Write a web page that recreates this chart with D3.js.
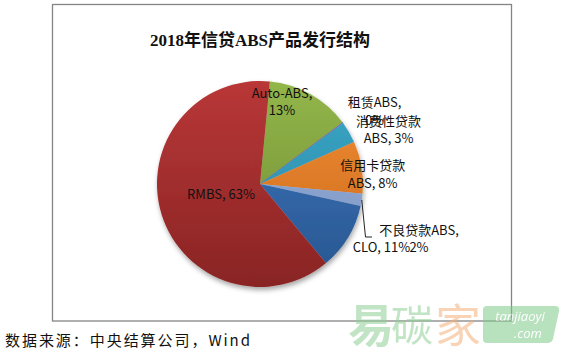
<!DOCTYPE html>
<html>
<head>
<meta charset="utf-8">
<script src="https://cdn.jsdelivr.net/npm/d3@7"></script>
<style>
body { margin: 0; background: #fff; }
svg { display: block; }
</style>
</head>
<body>
<svg id="chart" width="563" height="354"></svg>
<script>
// data, clockwise from the top of the pie
var categories = ['Auto-ABS', '租赁ABS', '消费性贷款ABS', '信用卡贷款ABS', '不良贷款ABS', 'CLO', 'RMBS'];
var shares = [13.3, 0.1, 3.4, 8.2, 1.9, 10.5, 62.6];
// label lines, {p} gets the percentage
var labelLines = [
    ['Auto-ABS,', '{p}'],
    ['租赁ABS,', '{p}'],
    ['消费性贷款', 'ABS, {p}'],
    ['信用卡贷款', 'ABS, {p}'],
    ['不良贷款ABS,', '{p}'],
    ['CLO, {p}'],
    ['RMBS, {p}']
];
var lightColors = ['#93b64a', '#8466a8', '#3ba8c8', '#f28f35', '#96afd8', '#3f78bf', '#b93737'];
var darkColors  = ['#6c8932', '#6b5290', '#2a84a1', '#c9661b', '#7c96c3', '#27558f', '#892424'];

var title = '2018年信贷ABS产品发行结构';
var source = '数据来源：中央结算公司，Wind';

// layout
var cx = 260, cy = 184, radius = 103;
var startDeg = 5.5;
var labelOffsets = [[22, -86.3], [114.5, -77], [128.5, -58.5], [112.7, -14], [159, 50.5], [121.5, 68], [-39, 14.5]];
var lineStep = 17.5;

var svg = d3.select('#chart');
var defs = svg.append('defs');

var shadow = defs.append('filter')
    .attr('id', 'shadow')
    .attr('x', '-20%').attr('y', '-20%')
    .attr('width', '140%').attr('height', '140%');
shadow.append('feDropShadow')
    .attr('dx', 1).attr('dy', 3)
    .attr('stdDeviation', 2.5)
    .attr('flood-color', '#000')
    .attr('flood-opacity', 0.35);

// gradients live in the pie group's coordinates (centre at 0,0)
categories.forEach(function(c, i) {
    var g = defs.append('linearGradient')
        .attr('id', 'grad' + i)
        .attr('gradientUnits', 'userSpaceOnUse')
        .attr('x1', 0).attr('y1', -radius)
        .attr('x2', 0).attr('y2', radius);
    g.append('stop').attr('offset', '0%').attr('stop-color', lightColors[i]);
    g.append('stop').attr('offset', '100%').attr('stop-color', darkColors[i]);
});

// chart frame
svg.append('rect')
    .attr('x', 52.5).attr('y', 4.5)
    .attr('width', 459).attr('height', 316.5)
    .attr('fill', '#fff')
    .attr('stroke', '#858585')
    .attr('stroke-width', 1.3);

svg.append('text')
    .attr('x', cx).attr('y', 46)
    .attr('text-anchor', 'middle')
    .style('font-family', '"Liberation Serif", "Noto Sans CJK SC", serif')
    .style('font-weight', 'bold')
    .style('font-size', '17px')
    .attr('fill', '#111')
    .text(title);

var start = startDeg * Math.PI / 180;
var pie = d3.pie().sort(null).value(function(d) { return d; })
    .startAngle(start).endAngle(start + 2 * Math.PI);
var arc = d3.arc().innerRadius(0).outerRadius(radius);
var arcs = pie(shares);
var total = d3.sum(shares);

var pieG = svg.append('g')
    .attr('transform', 'translate(' + cx + ',' + cy + ')');

pieG.append('g')
    .attr('filter', 'url(#shadow)')
    .selectAll('path')
    .data(arcs)
    .enter().append('path')
    .attr('d', arc)
    .attr('fill', function(d, i) { return 'url(#grad' + i + ')'; })
    .attr('stroke', function(d, i) { return i == 1 ? lightColors[i] : 'none'; })
    .attr('stroke-width', 0.6);

// leader line for the small slice
var nplIndex = 4;
var mid = (arcs[nplIndex].startAngle + arcs[nplIndex].endAngle) / 2;
var p0 = [radius * Math.sin(mid), -radius * Math.cos(mid)];
pieG.append('path')
    .attr('d', d3.line()([p0, [105.5, 53], [112, 53]]))
    .attr('fill', 'none')
    .attr('stroke', '#222')
    .attr('stroke-width', 1);

var pctFmt = function(v) { return Math.round(v / total * 100) + '%'; };

var labels = pieG.selectAll('text.lbl')
    .data(arcs)
    .enter().append('text')
    .attr('class', 'lbl')
    .attr('text-anchor', 'middle')
    .style('font-family', '"Noto Sans CJK SC", sans-serif')
    .style('font-size', '13px')
    .attr('fill', '#111');

labels.each(function(d, i) {
    var t = d3.select(this);
    labelLines[i].forEach(function(line, k) {
        t.append('tspan')
            .attr('x', labelOffsets[i][0])
            .attr('y', labelOffsets[i][1] + k * lineStep)
            .text(line.replace('{p}', pctFmt(d.value)));
    });
});

// source note
svg.append('text')
    .attr('x', 5).attr('y', 346)
    .attr('textLength', 245)
    .attr('lengthAdjust', 'spacing')
    .style('font-family', '"Noto Sans CJK SC", sans-serif')
    .style('font-size', '15px')
    .attr('fill', '#111')
    .text(source);

// watermark
var wm = svg.append('g').attr('opacity', 0.55);
wm.append('text')
    .attr('x', 348).attr('y', 342)
    .style('font-family', '"Noto Sans CJK SC", sans-serif')
    .style('font-weight', 'bold')
    .style('font-size', '46px')
    .attr('fill', '#8fd095')
    .text('易');
wm.append('text')
    .attr('x', 391).attr('y', 341)
    .style('font-family', '"Noto Sans CJK SC", sans-serif')
    .style('font-size', '42px')
    .attr('fill', '#8fd095')
    .text('碳');
wm.append('text')
    .attr('x', 435).attr('y', 342)
    .style('font-family', '"Noto Sans CJK SC", sans-serif')
    .style('font-size', '46px')
    .attr('fill', '#f3b07c')
    .text('家');
wm.append('path')
    .attr('d', 'M487,306 L555,306 Q560,306 559,311 L553,339 Q552,343 547,343 L487,343 Q483,343 483,339 L483,310 Q483,306 487,306 Z')
    .attr('fill', '#7fca8a');
wm.append('text')
    .attr('x', 520).attr('y', 321)
    .attr('text-anchor', 'middle')
    .style('font-family', '"Open Sans", sans-serif')
    .style('font-style', 'italic')
    .style('font-size', '13px')
    .attr('fill', '#fff')
    .text('tanjiaoyi');
wm.append('text')
    .attr('x', 528).attr('y', 338)
    .attr('text-anchor', 'middle')
    .style('font-family', '"Open Sans", sans-serif')
    .style('font-style', 'italic')
    .style('font-size', '13px')
    .attr('fill', '#fff')
    .text('.com');
</script>
</body>
</html>
